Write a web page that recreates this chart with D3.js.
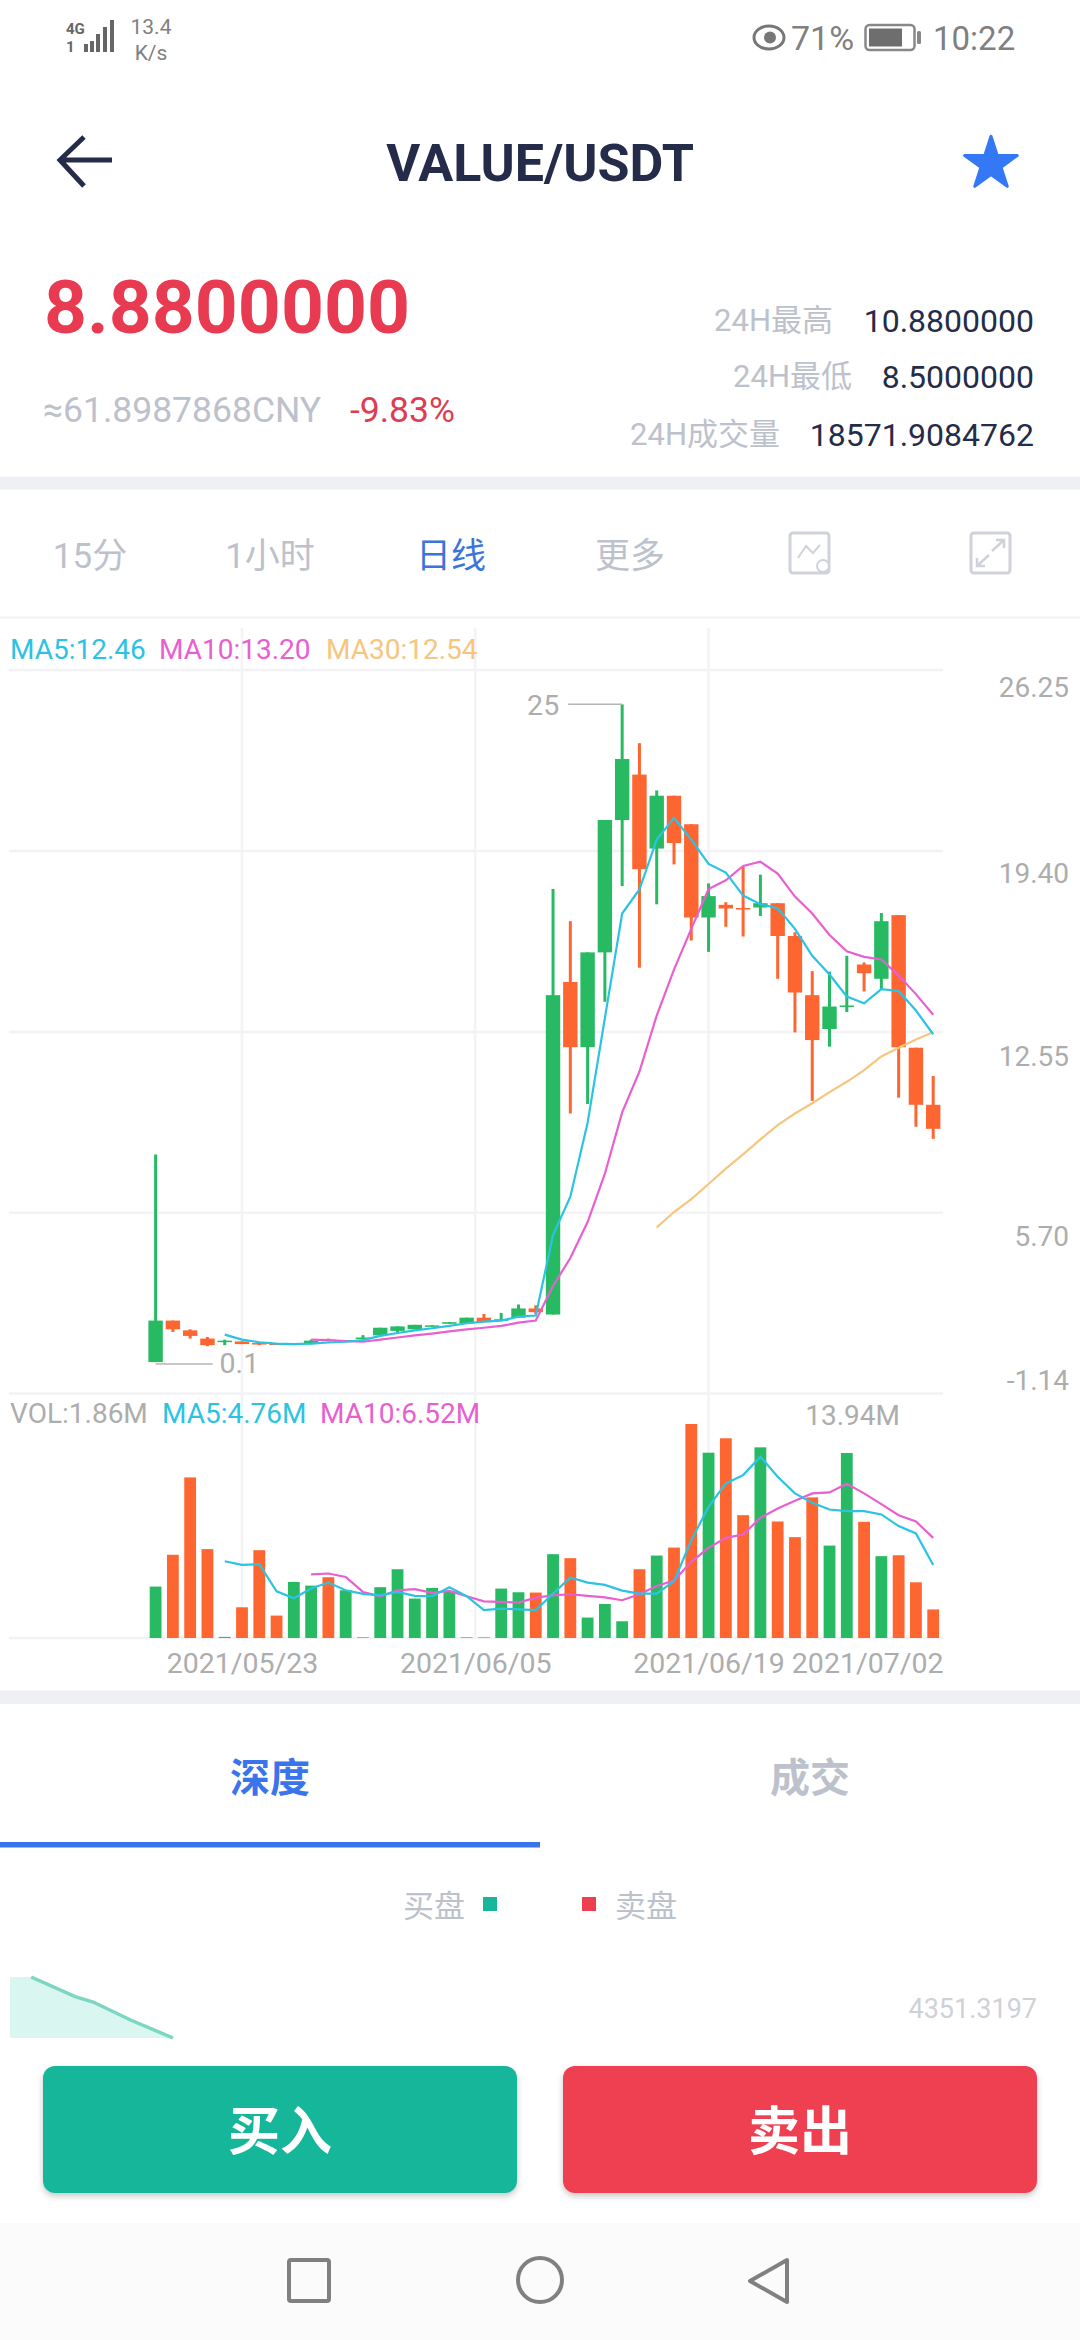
<!DOCTYPE html>
<html>
<head>
<meta charset="utf-8">
<script src="https://cdnjs.cloudflare.com/ajax/libs/d3/7.8.5/d3.min.js"></script>
<style>
  html, body { margin: 0; padding: 0; background: #fff; }
  svg { display: block; }
  text { font-family: Roboto, "Noto Sans CJK SC", sans-serif; }
</style>
</head>
<body>
<svg id="chart" width="1080" height="2340"></svg>
<script>
// candles, one per day
const opens  = [0.05,1.62,1.25,0.94,0.81,0.83,0.77,0.75,0.73,0.73,0.90,0.83,0.94,1.06,1.23,1.29,1.40,1.50,1.52,1.73,1.62,1.73,2.08,1.85,14.44,11.97,15.56,20.57,22.29,19.49,21.49,20.41,16.88,17.36,17.24,17.26,17.42,16.18,13.94,12.66,13.51,15.10,14.56,16.97,11.95,9.79];
const highs  = [7.91,1.62,1.29,1.00,0.90,0.83,0.77,0.75,0.75,0.90,0.94,0.88,1.07,1.35,1.40,1.46,1.44,1.56,1.73,1.87,1.91,2.23,2.20,17.96,16.74,15.56,20.57,24.95,23.48,21.69,21.49,20.41,18.17,17.46,18.81,18.50,17.42,16.32,14.85,14.83,15.43,15.18,17.05,16.97,11.95,10.88];
const lows   = [0.05,1.19,0.94,0.65,0.69,0.73,0.69,0.73,0.73,0.73,0.84,0.83,0.94,1.06,1.17,1.29,1.40,1.50,1.52,1.56,1.62,1.73,1.87,1.85,9.46,9.82,13.69,18.07,14.98,17.38,18.89,16.01,15.58,16.53,16.16,16.94,14.56,12.53,9.94,11.99,13.30,14.08,14.17,10.06,8.96,8.50];
const closes = [1.62,1.29,1.04,0.69,0.86,0.73,0.75,0.73,0.75,0.86,0.84,0.88,0.98,1.35,1.40,1.46,1.44,1.56,1.73,1.56,1.67,2.08,1.94,13.94,11.97,15.56,20.57,22.88,18.71,21.49,19.70,16.88,17.69,17.22,17.20,17.42,16.18,14.04,12.24,13.51,13.55,14.77,16.74,11.97,9.79,8.88];

// moving averages, null where the line has not started yet
const ma5  = [null,null,null,null,1.09,0.90,0.80,0.75,0.73,0.75,0.79,0.82,0.88,1.04,1.15,1.25,1.33,1.42,1.52,1.58,1.62,1.77,1.81,4.86,6.31,9.11,13.07,17.03,17.94,19.83,20.65,19.83,18.91,18.58,17.71,17.38,17.23,16.45,15.43,14.72,13.89,13.63,14.17,14.10,13.36,12.46];
const ma10 = [null,null,null,null,null,null,null,null,null,0.90,0.88,0.84,0.82,0.90,0.98,1.06,1.13,1.21,1.29,1.35,1.42,1.54,1.62,2.93,3.99,5.35,7.18,9.50,11.05,13.17,14.91,16.45,17.96,18.29,18.83,18.99,18.54,17.67,17.03,16.22,15.60,15.39,15.29,14.68,13.98,13.20];
const ma30 = [null,null,null,null,null,null,null,null,null,null,null,null,null,null,null,null,null,null,null,null,null,null,null,null,null,null,null,null,null,5.15,5.73,6.22,6.79,7.37,7.91,8.48,9.02,9.46,9.85,10.27,10.66,11.10,11.62,11.95,12.26,12.54];

// volume in millions
const volumes = [3.35,5.42,10.46,5.79,0.07,2.00,5.72,1.46,3.65,3.41,3.96,3.11,0.04,3.31,4.48,2.57,3.26,3.04,0.04,0.04,3.22,2.98,2.96,5.46,5.20,1.33,2.22,1.09,4.48,5.37,5.89,13.94,12.07,13.01,8.00,12.42,7.59,6.57,9.16,6.02,12.05,7.57,5.33,5.39,3.63,1.86];
const volMa5  = [null,null,null,null,5.00,4.76,4.81,3.04,2.59,3.22,3.61,3.11,2.87,2.78,3.00,2.74,2.72,3.31,2.72,1.81,1.91,1.87,1.81,2.89,3.94,3.61,3.46,3.09,2.89,2.89,3.70,6.37,8.55,10.07,10.61,11.81,10.50,9.42,8.81,8.37,8.26,8.26,8.05,7.29,6.81,4.76];
const volMa10 = [null,null,null,null,null,null,null,null,null,4.15,4.20,3.98,3.00,2.72,3.11,3.18,2.94,3.07,2.72,2.39,2.35,2.31,2.63,2.78,2.85,2.74,2.65,2.46,2.85,3.39,3.74,4.96,5.87,6.52,6.74,7.83,8.44,8.94,9.42,9.48,10.05,9.42,8.72,8.00,7.59,6.52];

// axes
const priceTicks = [26.25, 19.40, 12.55, 5.70, -1.14];
const dateTicks = ["2021/05/23", "2021/06/05", "2021/06/19", "2021/07/02"];
const dateTickIndex = [5, 18.5, 32, 45];

// depth panel
const depthShare  = [0, 0.13, 0.40, 0.51, 0.74, 1];
const depthAmount = [8850, 8850, 6010, 5220, 2610, 0];

const GREEN = "#27ba62", ORANGE = "#fd6531", CYAN = "#2cc3e3", PINK = "#e860d0", YELLOW = "#f6c67e";
const GRID = "#f3f3f6", GREY = "#adadad", PALE = "#bdc1cb", NAVY = "#252c4a", BLUE = "#3a74ea";

var svg = d3.select("#chart");

function label(g, x, y, str, size, fill, anchor, weight) {
  return g.append("text")
    .attr("x", x).attr("y", y).attr("dy", "0.36em")
    .attr("text-anchor", anchor || "start")
    .attr("font-size", size)
    .attr("font-weight", weight || 400)
    .attr("fill", fill)
    .text(str);
}

// ---- scales
var x = d3.scaleLinear().domain([0, 45]).range([155.6, 933.2]);
var y = d3.scaleLinear().domain([-1.14, 26.25]).range([1393.5, 670]);
var yVol = d3.scaleLinear().domain([0, 13.94]).range([1638, 1424]);

// ---- status bar
var statusBar = svg.append("g");
label(statusBar, 151, 26, "13.4", 21, "#808080", "middle");
label(statusBar, 151, 52, "K/s", 21, "#808080", "middle");
label(statusBar, 66, 29, "4G", 15, "#666", "start", 700);
label(statusBar, 66, 47, "1", 15, "#666", "start", 700);
[[84, 44, 8], [90, 41, 11], [96, 34, 18], [103, 27, 25], [110, 20, 32]].forEach(function(b) {
  statusBar.append("rect").attr("x", b[0]).attr("y", b[1]).attr("width", 4).attr("height", b[2]).attr("fill", "#666");
});
statusBar.append("ellipse").attr("cx", 769).attr("cy", 37.5).attr("rx", 15).attr("ry", 11.5).attr("fill", "none").attr("stroke", "#777").attr("stroke-width", 3);
statusBar.append("circle").attr("cx", 770).attr("cy", 37.5).attr("r", 6).attr("fill", "#777");
label(statusBar, 791, 38, "71%", 34, "#808080");
statusBar.append("rect").attr("x", 865.5).attr("y", 25).attr("width", 49).attr("height", 25).attr("rx", 4).attr("fill", "none").attr("stroke", "#888").attr("stroke-width", 2.5);
statusBar.append("rect").attr("x", 869).attr("y", 28.5).attr("width", 33).attr("height", 18).attr("fill", "#6e6e6e");
statusBar.append("rect").attr("x", 917).attr("y", 31).attr("width", 4).attr("height", 13).attr("rx", 1.5).attr("fill", "#888");
label(statusBar, 933, 38, "10:22", 33, "#808080");

// ---- title row
svg.append("path").attr("d", "M112,160H61M84,137L60,160L84,186")
  .attr("fill", "none").attr("stroke", NAVY).attr("stroke-width", 5);
label(svg, 540, 162, "VALUE/USDT", 52, NAVY, "middle", 700);
var star = d3.symbol().type(d3.symbolStar).size(860);
svg.append("path").attr("d", star()).attr("transform", "translate(991,164)").attr("fill", "#3478f6")
  .attr("stroke", "#3478f6").attr("stroke-width", 3).attr("stroke-linejoin", "round");

// ---- price summary
label(svg, 44, 306, "8.8800000", 75, "#e83b52", "start", 700);
label(svg, 43, 409, "≈61.8987868CNY", 35.5, PALE);
label(svg, 350, 409, "-9.83%", 35.5, "#dc3d52");
label(svg, 833, 320, "24H最高", 31, PALE, "end");
label(svg, 1034, 320, "10.8800000", 32, NAVY, "end");
label(svg, 852, 376, "24H最低", 31, PALE, "end");
label(svg, 1034, 376, "8.5000000", 32, NAVY, "end");
label(svg, 780, 434, "24H成交量", 31, PALE, "end");
label(svg, 1034, 434, "18571.9084762", 32, NAVY, "end");
svg.append("rect").attr("y", 476.5).attr("width", 1080).attr("height", 13).attr("fill", "#eff0f4");

// ---- period tabs
label(svg, 90, 555, "15分", 35, PALE, "middle");
label(svg, 270, 555, "1小时", 35, PALE, "middle");
label(svg, 451, 555, "日线", 35, "#3d74d9", "middle");
label(svg, 630, 555, "更多", 35, PALE, "middle");
svg.append("rect").attr("x", 790).attr("y", 533).attr("width", 39).attr("height", 40).attr("rx", 3).attr("fill", "none").attr("stroke", "#cfd2da").attr("stroke-width", 3);
svg.append("path").attr("d", "M798,558L806,546L813,553L820,545").attr("fill", "none").attr("stroke", "#cfd2da").attr("stroke-width", 2);
svg.append("circle").attr("cx", 823).attr("cy", 566).attr("r", 6).attr("fill", "#fff").attr("stroke", "#cfd2da").attr("stroke-width", 2);
svg.append("rect").attr("x", 971).attr("y", 533).attr("width", 39).attr("height", 40).attr("rx", 3).attr("fill", "none").attr("stroke", "#cfd2da").attr("stroke-width", 3);
svg.append("path").attr("d", "M992,551L1004,540M996,540H1004V548M989,555L977,566M977,558V566H985").attr("fill", "none").attr("stroke", "#cfd2da").attr("stroke-width", 2.5);
svg.append("rect").attr("y", 616.5).attr("width", 1080).attr("height", 2).attr("fill", "#f1f2f5");

// ---- grid
var grid = svg.append("g").attr("stroke", GRID).attr("stroke-width", 2.5);
grid.selectAll(".h").data(priceTicks).join("line")
  .attr("x1", 9).attr("x2", 943).attr("y1", d => y(d)).attr("y2", d => y(d));
grid.append("line").attr("x1", 9).attr("x2", 943).attr("y1", yVol(0)).attr("y2", yVol(0));
grid.selectAll(".v").data(dateTickIndex.slice(0, 3)).join("line")
  .attr("x1", d => x(d)).attr("x2", d => x(d)).attr("y1", 628).attr("y2", yVol(0));

// ---- price axis, the labels do not sit on their grid lines
const priceLabelShift = [18, 23, 25, 24, -13];
var priceAxis = svg.append("g").attr("transform", "translate(1069,0)")
  .call(d3.axisLeft(y).tickValues(priceTicks).tickSize(0).tickPadding(0).tickFormat(d => d.toFixed(2)));
priceAxis.select(".domain").remove();
priceAxis.attr("font-family", null);
priceAxis.selectAll("text").attr("font-size", 28).attr("fill", GREY)
  .attr("y", (d, i) => priceLabelShift[i]);

// ---- date axis
var dateAxis = svg.append("g").attr("transform", "translate(0,1652)")
  .call(d3.axisBottom(x).tickValues(dateTickIndex).tickSize(0).tickPadding(0).tickFormat((d, i) => dateTicks[i]));
dateAxis.select(".domain").remove();
dateAxis.attr("font-family", null);
dateAxis.selectAll("text").attr("font-size", 28.5).attr("fill", GREY).attr("dy", "0.72em")
  .attr("x", (d, i) => i == 3 ? 943 - x(45) : 0)
  .attr("text-anchor", (d, i) => i == 3 ? "end" : "middle");

// ---- candles
var candles = svg.append("g");
var rows = opens.map(function(o, i) {
  return { i: i, open: o, high: highs[i], low: lows[i], close: closes[i], vol: volumes[i] };
});
candles.selectAll(".wick").data(rows).join("line")
  .attr("x1", d => x(d.i)).attr("x2", d => x(d.i))
  .attr("y1", d => y(d.high)).attr("y2", d => y(d.low))
  .attr("stroke", d => d.close >= d.open ? GREEN : ORANGE)
  .attr("stroke-width", 3);
candles.selectAll(".body").data(rows).join("rect")
  .attr("x", d => x(d.i) - 7.2).attr("width", 14.4)
  .attr("y", d => y(Math.max(d.open, d.close)))
  .attr("height", d => Math.max(Math.abs(y(d.open) - y(d.close)), 1.5))
  .attr("fill", d => d.close >= d.open ? GREEN : ORANGE);

// ---- volume bars
svg.append("g").selectAll("rect").data(rows).join("rect")
  .attr("x", d => x(d.i) - 5.9).attr("width", 11.8)
  .attr("y", d => yVol(d.vol))
  .attr("height", d => yVol(0) - yVol(d.vol))
  .attr("fill", d => d.close >= d.open ? GREEN : ORANGE);

// ---- moving average lines
function drawLine(values, scale, color) {
  var line = d3.line()
    .defined(d => d !== null)
    .x((d, i) => x(i))
    .y(d => scale(d));
  svg.append("path").datum(values)
    .attr("d", line)
    .attr("fill", "none")
    .attr("stroke", color)
    .attr("stroke-width", 2.2);
}
drawLine(ma30, y, YELLOW);
drawLine(ma10, y, PINK);
drawLine(ma5, y, CYAN);
drawLine(volMa10, yVol, PINK);
drawLine(volMa5, yVol, CYAN);

// ---- max and min callouts
var maxIndex = d3.maxIndex(highs), minIndex = d3.minIndex(lows);
svg.append("line").attr("x1", x(maxIndex)).attr("x2", x(maxIndex) - 54)
  .attr("y1", y(highs[maxIndex])).attr("y2", y(highs[maxIndex]))
  .attr("stroke", "#b5b5b5").attr("stroke-width", 1.5);
label(svg, x(maxIndex) - 63, y(highs[maxIndex]), "25", 28.5, GREY, "end");
svg.append("line").attr("x1", x(minIndex)).attr("x2", x(minIndex) + 57)
  .attr("y1", y(lows[minIndex]) + 2).attr("y2", y(lows[minIndex]) + 2)
  .attr("stroke", "#b5b5b5").attr("stroke-width", 1.5);
label(svg, x(minIndex) + 64, y(lows[minIndex]) + 1, "0.1", 28.5, GREY);

// ---- legends
label(svg, 10, 649, "MA5:12.46", 28, CYAN);
label(svg, 159, 649, "MA10:13.20", 28, PINK);
label(svg, 326, 649, "MA30:12.54", 28, YELLOW);
label(svg, 10, 1413, "VOL:1.86M", 28, GREY);
label(svg, 162, 1413, "MA5:4.76M", 28, CYAN);
label(svg, 320, 1413, "MA10:6.52M", 28, PINK);
label(svg, 900, 1415, "13.94M", 28, GREY, "end");

// ---- depth tabs
svg.append("rect").attr("y", 1690.5).attr("width", 1080).attr("height", 13.5).attr("fill", "#eff0f4");
label(svg, 270, 1778, "深度", 40, BLUE, "middle", 700);
label(svg, 810, 1778, "成交", 40, PALE, "middle", 700);
svg.append("rect").attr("y", 1842).attr("width", 540).attr("height", 5.5).attr("fill", BLUE);
label(svg, 403, 1906, "买盘", 31, PALE);
svg.append("rect").attr("x", 483).attr("y", 1897).attr("width", 14).attr("height", 14).attr("fill", "#18b69b");
svg.append("rect").attr("x", 582).attr("y", 1897).attr("width", 14).attr("height", 14).attr("fill", "#ee3f51");
label(svg, 615, 1906, "卖盘", 31, PALE);

// ---- depth chart
var xDepth = d3.scaleLinear().domain([0, 1]).range([10, 173]);
var yDepth = d3.scaleLinear().domain([0, 4351.3197]).range([2038, 2008]);
var depth = depthShare.map((s, i) => ({ s: s, a: depthAmount[i] }));
svg.append("path").datum(depth)
  .attr("d", d3.area().x(d => xDepth(d.s)).y0(yDepth(0)).y1(d => yDepth(d.a)))
  .attr("fill", "#daf6f0");
svg.append("path").datum(depth.slice(1))
  .attr("d", d3.line().x(d => xDepth(d.s)).y(d => yDepth(d.a)))
  .attr("fill", "none").attr("stroke", "#7bd6c2").attr("stroke-width", 3.5);
label(svg, 1037, 2008, "4351.3197", 27, "#cfd1d7", "end");

// ---- buy and sell buttons
var defs = svg.append("defs");
defs.append("filter").attr("id", "lift").attr("x", "-5%").attr("y", "-10%").attr("width", "110%").attr("height", "125%")
  .append("feDropShadow").attr("dx", 0).attr("dy", 3).attr("stdDeviation", 3).attr("flood-color", "#000").attr("flood-opacity", 0.22);

// ---- navigation bar, goes under the button shadows
svg.append("rect").attr("y", 2223).attr("width", 1080).attr("height", 117).attr("fill", "#fbfbfc");
var nav = svg.append("g").attr("fill", "none").attr("stroke", "#808080").attr("stroke-width", 4).attr("stroke-linejoin", "round");
nav.append("rect").attr("x", 289).attr("y", 2260).attr("width", 40).attr("height", 41).attr("rx", 2);
nav.append("circle").attr("cx", 540).attr("cy", 2280).attr("r", 22);
nav.append("path").attr("d", "M787,2260L750,2281L787,2302Z");

svg.append("rect").attr("x", 43).attr("y", 2066).attr("width", 474).attr("height", 127).attr("rx", 12).attr("fill", "#18b69b").attr("filter", "url(#lift)");
svg.append("rect").attr("x", 563).attr("y", 2066).attr("width", 474).attr("height", 127).attr("rx", 12).attr("fill", "#ee3f51").attr("filter", "url(#lift)");
label(svg, 280, 2131, "买入", 52, "#fff", "middle", 700);
label(svg, 800, 2131, "卖出", 52, "#fff", "middle", 700);
</script>
</body>
</html>
